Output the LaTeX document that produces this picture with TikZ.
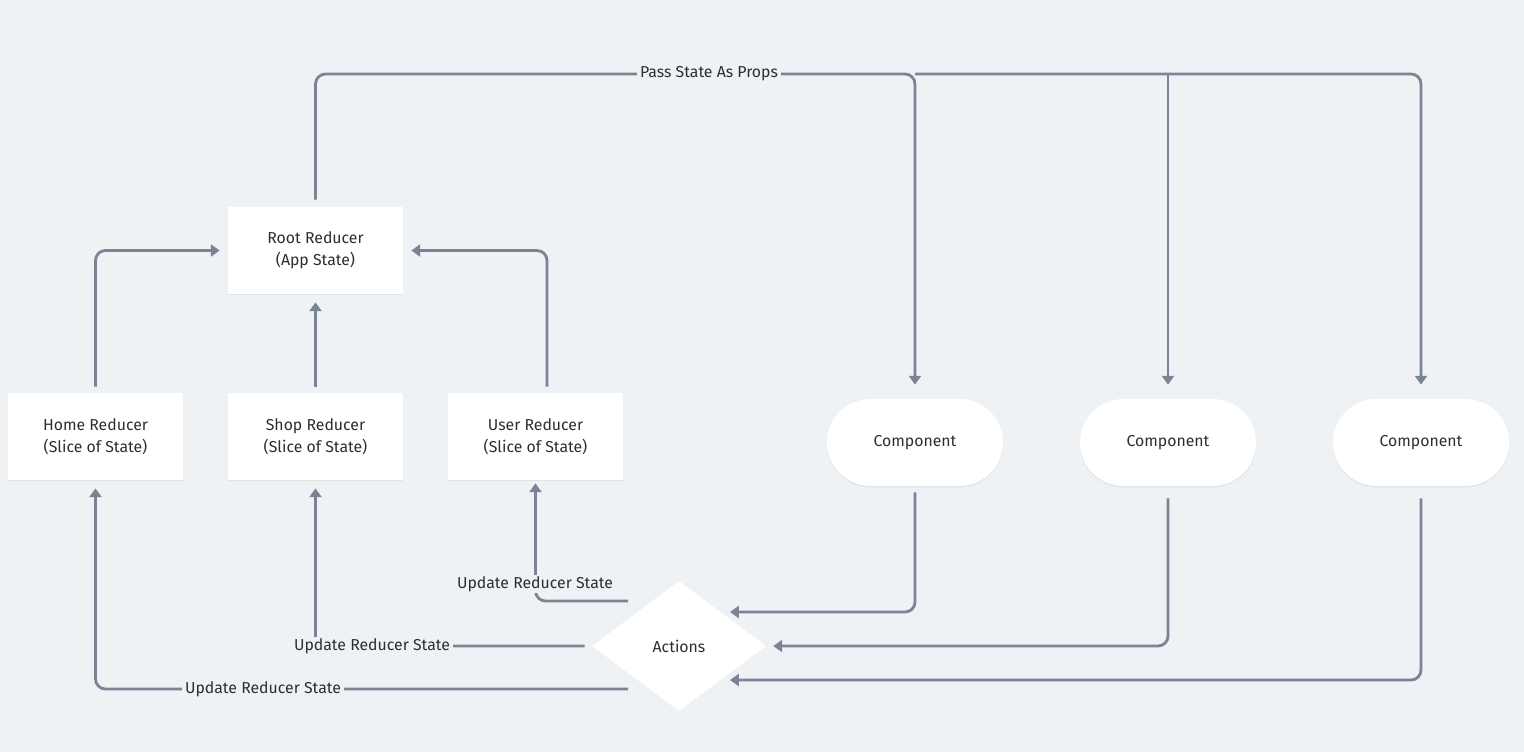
\documentclass[tikz,border=0pt]{standalone}
\usepackage{fontspec}
\setmainfont{Fira Sans}
\usetikzlibrary{arrows.meta,shapes.geometric,shadows,calc}
\definecolor{bgc}{HTML}{EEF2F5}
\definecolor{lnc}{HTML}{7A8494}
\definecolor{txc}{HTML}{2B2F35}

\begin{document}
\begin{tikzpicture}[x=0.02cm,y=-0.02cm,
	font=\fontsize{9}{12.5}\selectfont,text=txc,
	box/.style={fill=white,minimum width=3.5cm,minimum height=1.74cm,align=center,inner sep=0pt,
		drop shadow={shadow xshift=0pt,shadow yshift=-0.8pt,opacity=0.06,fill=black}},
	comp/.style={fill=white,rounded corners=0.87cm,minimum width=3.52cm,minimum height=1.74cm,inner sep=0pt,
		drop shadow={shadow xshift=0pt,shadow yshift=-0.8pt,opacity=0.06,fill=black}},
	act/.style={diamond,fill=white,minimum width=3.48cm,minimum height=2.6cm,inner sep=0pt},
	ln/.style={draw=lnc,line width=1.6pt,rounded corners=0.2cm},
	arr/.style={-{Triangle[length=5pt,width=6.8pt]}},
	lbl/.style={fill=bgc,inner xsep=2pt,inner ysep=1pt}]
					\fill[bgc] (0,0) rectangle (1524,752);
					\useasboundingbox (0,0) rectangle (1524,752);
					\path (315.5,250.5) node[box] (v0) {Root Reducer\\(App State)};
					\path (95.5,436.5) node[box] (v1) {Home Reducer\\(Slice of State)};
					\path (315.5,436.5) node[box] (v2) {Shop Reducer\\(Slice of State)};
					\path (535.5,436.5) node[box] (v3) {User Reducer\\(Slice of State)};
					\path (679,646) node[act] (v6) {Actions};
					\path (915,442.5) node[comp] (v7) {Component};
					\path (1168,442.5) node[comp] (v8) {Component};
					\path (1421,442.5) node[comp] (v9) {Component};
					\coordinate (t) at (709,74);
					\draw[ln,arr,shorten <=0.14cm,shorten >=0.28cm] (v0.north) |- (v7.north |- t) -- (v7.north);
					\draw[ln,arr,shorten >=0.28cm] (v7.north |- t) -- (v9.north |- t) -- (v9.north);
					\draw[ln,arr,shorten >=0.28cm] (v8.north |- t) -- (v8.north);
					\draw[ln,arr,shorten <=0.12cm,shorten >=0.16cm] (v1.north) |- (v0.west);
					\draw[ln,arr,shorten <=0.12cm,shorten >=0.16cm] (v2.north) -- (v0.south);
					\draw[ln,arr,shorten <=0.12cm,shorten >=0.16cm] ([xshift=0.23cm]v3.north) |- (v0.east);
					\draw[ln,arr,shorten >=0.06cm] ($(v6)+(-51,-45)$) -| (v3.south);
					\draw[ln,arr,shorten <=0.14cm,shorten >=0.16cm] (v6.west) -| (v2.south);
					\draw[ln,arr,shorten >=0.16cm] ($(v6)+(-51,43)$) -| (v1.south);
					\draw[ln,arr,shorten <=0.12cm] (v7.south) |- ($(v6)+(51,-34)$);
					\draw[ln,arr,shorten <=0.24cm,shorten >=0.14cm] (v8.south) |- (v6.east);
					\draw[ln,arr,shorten <=0.24cm] (v9.south) |- ($(v6)+(51,34)$);
					\path (t) node[lbl] (v10) {Pass State As Props};
					\path (535,584) node[lbl] (v11) {Update Reducer State};
					\path (372,646) node[lbl] (v12) {Update Reducer State};
					\path (263,689) node[lbl] (v13) {Update Reducer State};
\end{tikzpicture}
\end{document}
